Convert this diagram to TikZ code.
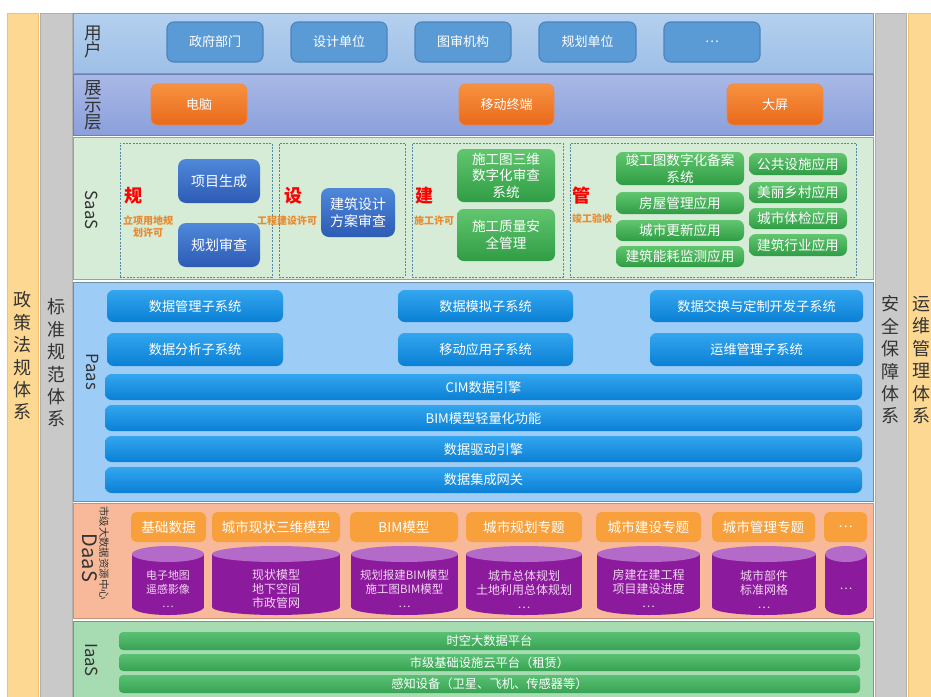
\documentclass[tikz,border=0pt]{standalone}
\usepackage{fontspec}
\setmainfont{Noto Sans CJK SC}
\definecolor{yel}{HTML}{FDD892}
\definecolor{yeld}{HTML}{F3C26A}
\definecolor{gry}{HTML}{C9C9C9}
\definecolor{gryd}{HTML}{B0B0B0}
\definecolor{userA}{HTML}{B5D0EF}
\definecolor{userB}{HTML}{9EBFE7}
\definecolor{dispA}{HTML}{A9B9E6}
\definecolor{dispB}{HTML}{8B9FDB}
\definecolor{saasbg}{HTML}{D6ECD7}
\definecolor{paasbg}{HTML}{9DCCF6}
\definecolor{daasbg}{HTML}{F7B999}
\definecolor{iaasbg}{HTML}{A7DCB2}
\definecolor{ublue}{HTML}{5B9BD5}
\definecolor{ubluedk}{HTML}{4A84BD}
\definecolor{orA}{HTML}{F7923F}
\definecolor{orB}{HTML}{E9691C}
\definecolor{sbA}{HTML}{4F88DA}
\definecolor{sbB}{HTML}{2D5BB4}
\definecolor{grA}{HTML}{62C66F}
\definecolor{grB}{HTML}{2F9D45}
\definecolor{pbA}{HTML}{34A6EF}
\definecolor{pbB}{HTML}{0A80D5}
\definecolor{dhead}{HTML}{F8A03C}
\definecolor{cylbody}{HTML}{8C1A9C}
\definecolor{cyltop}{HTML}{B46AC9}
\definecolor{cyltext}{HTML}{F2D6F2}
\definecolor{ibar}{HTML}{3DB55B}
\definecolor{lblor}{HTML}{E98A2E}
\definecolor{dashc}{HTML}{4F88A8}
\definecolor{txt}{HTML}{333333}
\newcommand\fs[2]{\fontsize{#1pt}{#2pt}\selectfont}
\newcommand\bx[7]{\node[#1, minimum width={0.75pt*(#5-#3)}, minimum height={0.75pt*(#6-#4)}] (#2) at ({(#3+#5)/2},{(#4+#6)/2}) {#7};}
\newcommand\cyl[5]{%
  \fill[cylbody] (#2,554) rectangle (#3,607);
  \fill[cylbody] ({(#2+#3)/2},607) ellipse [x radius={0.375pt*(#3-#2)}, y radius=6pt];
  \fill[cyltop] ({(#2+#3)/2},554) ellipse [x radius={0.375pt*(#3-#2)}, y radius=6pt];
  \node[text=cyltext, font=\fs{#5}{10.5}] (#1) at ({(#2+#3)/2},589) {#4};}
\begin{document}
\begin{tikzpicture}[x=0.75pt,y=-0.75pt,
  every node/.style={inner sep=0pt, align=center},
  ubox/.style={rounded corners=5pt, fill=ublue, draw=ubluedk, line width=0.8pt, text=white, font=\fs{9.75}{12}},
  obox/.style={rounded corners=5pt, top color=orA, bottom color=orB, draw=orB!80!white, text=white, font=\fs{9.75}{12}},
  sbox/.style={rounded corners=6pt, top color=sbA, bottom color=sbB, text=white, font=\fs{10.5}{13}},
  gbox/.style={rounded corners=5pt, top color=grA, bottom color=grB, text=white, font=\fs{10.2}{12.5}},
  pbox/.style={rounded corners=5pt, top color=pbA, bottom color=pbB, text=white, font=\fs{9.9}{12}},
  dbox/.style={rounded corners=4pt, fill=dhead, text=white, font=\fs{10.2}{12}},
  ibox/.style={rounded corners=3pt, top color=ibar!85!white, bottom color=ibar!90!black, text=white, font=\fs{9.2}{11}},
  dashbox/.style={draw=dashc, dash pattern=on 1.5pt off 1pt, line width=0.6pt},
  redlbl/.style={text=red, font=\fs{13.5}{14}\bfseries},
  orlbl/.style={text=lblor, font=\fs{7.5}{9}\bfseries},
  rowlbl/.style={text=txt, font=\fs{13.2}{11.8}},
  vlbl/.style={text=txt, font=\fs{12.5}{13}},
  sidelbl/.style={text=txt, font=\fs{13.5}{16.8}}
]
\useasboundingbox (0,0) rectangle (931,696);
\fill[white] (0,0) rectangle (931,696);
% side columns
\draw[fill=yel, draw=yeld] (7,13) rectangle (38,700);
\draw[fill=gry, draw=gryd] (40,13) rectangle (72,700);
\draw[fill=gry, draw=gryd] (875,13) rectangle (906,700);
\draw[fill=yel, draw=yeld] (908,13) rectangle (940,700);
\node[sidelbl] (zc) at (22,356) {政\\策\\法\\规\\体\\系};
\node[sidelbl] (bz) at (56,363) {标\\准\\规\\范\\体\\系};
\node[sidelbl] (aq) at (890,360) {安\\全\\保\\障\\体\\系};
\node[sidelbl] (yw) at (921,360) {运\\维\\管\\理\\体\\系};
% rows
\draw[top color=userA, bottom color=userB, draw=userB!80!black] (73,13) rectangle (873,73);
\draw[top color=dispA, bottom color=dispB, draw=dispB!80!black] (73,74) rectangle (873,135);
\draw[fill=saasbg, draw=saasbg!70!black] (73,137) rectangle (873,279);
\draw[fill=paasbg, draw=paasbg!70!black] (73,282) rectangle (873,501);
\draw[fill=daasbg, draw=daasbg!80!black] (73,503) rectangle (873,618);
\draw[fill=iaasbg, draw=iaasbg!70!black] (73,621) rectangle (873,700);
% row labels
\node[rowlbl] (lu) at (93,42) {用\\户};
\node[rowlbl, font=\fs{13.2}{12.8}] (ld) at (93,105) {展\\示\\层};
\node[vlbl, rotate=-90] (ls) at (92,210) {SaaS};
\node[vlbl, rotate=-90] (lp) at (92,372) {Paas};
\node[vlbl, rotate=-90, font=\fs{15}{15}] (lda) at (90,558) {DaaS};
\node[text=txt, rotate=-90, font=\fs{7.8}{8}] (ldc) at (104,553) {市级大数据资源中心};
\node[vlbl, rotate=-90] (li) at (92,660) {IaaS};
% users
\bx{ubox}{u1}{167}{22}{263}{62}{政府部门}
\bx{ubox}{u2}{291}{22}{387}{62}{设计单位}
\bx{ubox}{u3}{415}{22}{511}{62}{图审机构}
\bx{ubox}{u4}{539}{22}{636}{62}{规划单位}
\bx{ubox}{u5}{664}{22}{760}{62}{…}
% display
\bx{obox}{d1}{151}{84}{247}{125}{电脑}
\bx{obox}{d2}{459}{84}{554}{125}{移动终端}
\bx{obox}{d3}{727}{84}{823}{125}{大屏}
% SaaS dashed groups
\bx{dashbox}{g1}{120}{143}{272}{277}{}
\bx{dashbox}{g2}{279}{143}{405}{277}{}
\bx{dashbox}{g3}{412}{143}{563}{277}{}
\bx{dashbox}{g4}{570}{143}{856}{277}{}
\node[redlbl] (r1) at (133,196) {规};
\node[redlbl] (r2) at (293,196) {设};
\node[redlbl] (r3) at (424,196) {建};
\node[redlbl] (r4) at (581,196) {管};
\node[orlbl] (o1) at (148,227) {立项用地规\\划许可};
\node[orlbl] (o2) at (287,221) {工程建设许可};
\node[orlbl] (o3) at (434,221) {施工许可};
\node[orlbl] (o4) at (592,219) {竣工验收};
\bx{sbox}{s1}{178}{159}{260}{203}{项目生成}
\bx{sbox}{s2}{178}{223}{260}{267}{规划审查}
\bx{sbox}{s3}{321}{188}{395}{237}{建筑设计\\方案审查}
\bx{gbox}{c1}{457}{149}{555}{202}{施工图三维\\数字化审查\\系统}
\bx{gbox}{c2}{457}{209}{555}{261}{施工质量安\\全管理}
\bx{gbox}{m1}{616}{152}{744}{185}{竣工图数字化备案\\系统}
\bx{gbox}{m2}{616}{192}{744}{214}{房屋管理应用}
\bx{gbox}{m3}{616}{220}{744}{241}{城市更新应用}
\bx{gbox}{m4}{616}{246}{744}{267}{建筑能耗监测应用}
\bx{gbox}{m5}{749}{153}{847}{175}{公共设施应用}
\bx{gbox}{m6}{749}{182}{847}{203}{美丽乡村应用}
\bx{gbox}{m7}{749}{208}{847}{229}{城市体检应用}
\bx{gbox}{m8}{749}{234}{847}{256}{建筑行业应用}
% PaaS
\bx{pbox}{p1}{107}{290}{283}{322}{数据管理子系统}
\bx{pbox}{p2}{107}{333}{283}{366}{数据分析子系统}
\bx{pbox}{p3}{398}{290}{573}{322}{数据模拟子系统}
\bx{pbox}{p4}{398}{333}{573}{366}{移动应用子系统}
\bx{pbox}{p5}{650}{290}{863}{322}{数据交换与定制开发子系统}
\bx{pbox}{p6}{650}{333}{863}{366}{运维管理子系统}
\bx{pbox}{p7}{105}{374}{862}{400}{CIM数据引擎}
\bx{pbox}{p8}{105}{405}{862}{431}{BIM模型轻量化功能}
\bx{pbox}{p9}{105}{436}{862}{462}{数据驱动引擎}
\bx{pbox}{p10}{105}{467}{862}{493}{数据集成网关}
% DaaS headers
\bx{dbox}{h1}{131}{512}{206}{542}{基础数据}
\bx{dbox}{h2}{212}{512}{340}{542}{城市现状三维模型}
\bx{dbox}{h3}{350}{512}{458}{542}{BIM模型}
\bx{dbox}{h4}{466}{512}{582}{542}{城市规划专题}
\bx{dbox}{h5}{596}{512}{701}{542}{城市建设专题}
\bx{dbox}{h6}{712}{512}{815}{542}{城市管理专题}
\bx{dbox}{h7}{824}{512}{867}{542}{…}
% cylinders
\cyl{y1}{132}{204}{电子地图\\遥感影像\\…}{8.2}
\cyl{y2}{212}{340}{现状模型\\地下空间\\市政管网}{9}
\cyl{y3}{351}{458}{规划报建BIM模型\\施工图BIM模型\\…}{8.6}
\cyl{y4}{466}{582}{城市总体规划\\土地利用总体规划\\…}{9}
\cyl{y5}{597}{700}{房建在建工程\\项目建设进度\\…}{9}
\cyl{y6}{712}{816}{城市部件\\标准网格\\…}{9}
\cyl{y7}{825}{867}{…}{9}
% IaaS
\bx{ibox}{i1}{119}{632}{860}{650}{时空大数据平台}
\bx{ibox}{i2}{119}{654}{860}{671}{市级基础设施云平台（租赁）}
\bx{ibox}{i3}{119}{675}{860}{693}{感知设备（卫星、飞机、传感器等）}
\end{tikzpicture}
\end{document}
